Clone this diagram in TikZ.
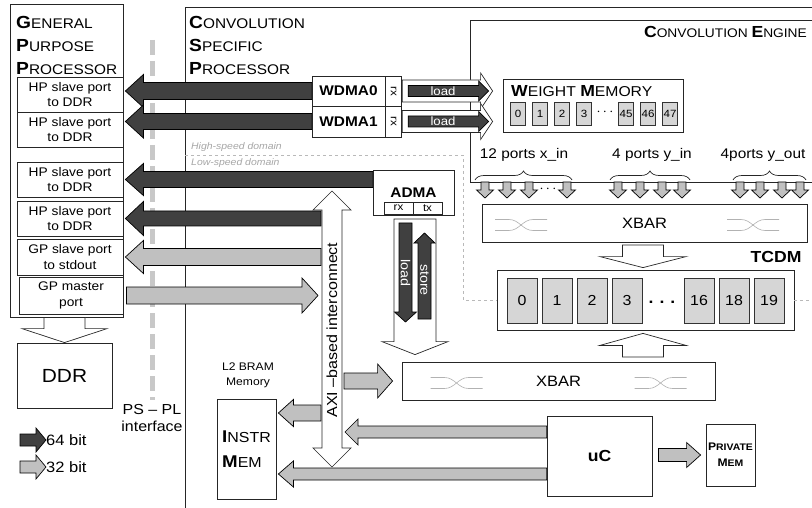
\documentclass[tikz,border=0pt]{standalone}
\usepackage{graphicx}
\usepackage{fontspec}
\setmainfont{Liberation Sans}[FakeStretch=1.1]
\usetikzlibrary{calc, decorations.pathreplacing}

\definecolor{arrowdark}{HTML}{404040}
\definecolor{arrowlight}{HTML}{C0C0C0}
\definecolor{cellgray}{HTML}{D6D6D6}
\definecolor{dashgray}{HTML}{C8C8C8}

% bold first letter of the small caps titles
\newcommand\capinit[2][17.5]{{\fontsize{#1}{#1}\selectfont\bfseries #2}}

% block arrow: [style]{tail}{tip}{half shaft}{half head}{head length}
\newcommand\blockarrow[6][]{%
  \coordinate (ba-h) at ($(#3)!#6!(#2)$);
  \draw[#1] ($(#2)!#4!90:(#3)$) -- ($(ba-h)!#4!-90:(#2)$) -- ($(ba-h)!#5!-90:(#2)$) -- (#3)
    -- ($(ba-h)!#5!90:(#2)$) -- ($(ba-h)!#4!90:(#2)$) -- ($(#2)!#4!-90:(#3)$) -- cycle;}

\tikzset{
  boxline/.style={draw=black!85, line width=0.8pt},
  blk/.style={boxline, fill=white, inner sep=0pt, align=center},
  port/.style={blk, minimum width=106pt, minimum height=35pt, font=\fontsize{12.5}{15.5}\selectfont},
  cell/.style={draw=black!80, fill=cellgray, line width=0.7pt, inner sep=0pt},
  wcell/.style={cell, minimum width=15pt, minimum height=23pt, font=\fontsize{10.5}{12}\selectfont},
  tcell/.style={cell, minimum width=30pt, minimum height=45pt, font=\fontsize{14.5}{16}\selectfont},
  bus64/.style={draw=black, fill=arrowdark, line width=0.7pt},
  bus32/.style={draw=black, fill=arrowlight, line width=0.7pt},
  hollow/.style={draw=black!85, fill=white, line width=0.7pt},
  crossline/.style={draw=gray!60, line width=0.6pt},
  xbarcross/.pic={
    \draw[crossline] (-26,-5.5) -- (-12,-5.5) to[out=0,in=180] (12,5.5) -- (26,5.5);
    \draw[crossline] (-26,5.5) -- (-12,5.5) to[out=0,in=180] (12,-5.5) -- (26,-5.5);},
  speedline/.style={draw=gray!55, dashed, line width=0.6pt},
  speedtext/.style={gray!70, font=\fontsize{9.5}{11}\selectfont\itshape, anchor=west, inner sep=0pt},
  ttl/.style={anchor=west, align=left, inner sep=0pt, font=\fontsize{14}{23}\selectfont},
  lbl/.style={inner sep=0pt, font=\fontsize{14}{16}\selectfont},
  brc/.style={decorate, decoration={brace, amplitude=9pt}, draw=black!85, line width=0.7pt},
}

\begin{document}
\begin{tikzpicture}[x=1pt, y=-1pt]
  \useasboundingbox (0,0) rectangle (812,508);

  % PS - PL boundary
  \draw[dashgray, line width=5pt, dash pattern=on 15pt off 6pt] (152,40) -- (152,400);
  \node[lbl, align=center, font=\fontsize{14.5}{17}\selectfont] (pspl) at (152,418) {PS \textendash{} PL\\interface};

  % frames of the CSP and of the convolution engine (run off the page)
  \draw[boxline] (185,508) |- (812,7);
  \draw[boxline] (812,20) -| (470,182) -- (812,182);
  \node[ttl] (csptitle) at (189,45) {\capinit{C}ONVOLUTION\\\capinit{S}PECIFIC\\\capinit{P}ROCESSOR};
  \node[ttl, anchor=east, font=\fontsize{12.5}{16}\selectfont] (cetitle) at (807,32) {\capinit[16]{C}ONVOLUTION \capinit[16]{E}NGINE};

  % high / low speed domains
  \node[blk, minimum width=297pt, minimum height=60pt] (tcdm) at (645.5,300) {};
  \draw[speedline] (185,155) -| (463,300) -- (tcdm.west);
  \draw[speedline] (tcdm.east) -- (812,300);
  \node[speedtext] (hsd) at (191,147) {High-speed domain};
  \node[speedtext] (lsd) at (191,163) {Low-speed domain};

  % general purpose processor
  \node[blk, minimum width=113pt, minimum height=313pt] (gpp) at (66.5,160.5) {};
  \node[ttl] (gpptitle) at (16,45) {\capinit{G}ENERAL\\\capinit{P}URPOSE\\\capinit{P}ROCESSOR};
  \node[port] (hp1) at (70,94.5) {HP slave port\\to DDR};
  \node[port] (hp2) at (70,129.5) {HP slave port\\to DDR};
  \node[port] (hp3) at (70,179.5) {HP slave port\\to DDR};
  \node[port] (hp4) at (70,218.5) {HP slave port\\to DDR};
  \node[port, minimum height=36pt] (gps) at (70,257) {GP slave port\\to stdout};
  \node[port, minimum width=104pt, minimum height=37pt] (gpm) at (71,295.5) {GP master\\port};
  \node[blk, minimum width=95pt, minimum height=65pt, font=\fontsize{19}{22}\selectfont] (ddr) at (64.5,375.5) {DDR};
  \coordinate (ddrin) at (ddr.north |- gpp.south);
  \blockarrow[hollow]{ddrin}{ddr.north}{20.5pt}{42.5pt}{14pt}

  % legend
  \node[lbl, anchor=west, font=\fontsize{15}{17}\selectfont] (t64) at (46,440) {64 bit};
  \node[lbl, anchor=west, font=\fontsize{15}{17}\selectfont] (t32) at (46,467) {32 bit};
  \coordinate (l64) at (20,440);
  \coordinate (l32) at (20,467);
  \blockarrow[bus64]{l64}{t64.west}{6pt}{12pt}{10pt}
  \blockarrow[bus32]{l32}{t32.west}{6pt}{12pt}{10pt}

  % weight DMAs
  \node[blk, minimum width=73pt, minimum height=30pt, font=\fontsize{14}{16}\selectfont\bfseries] (wdma0) at (348.5,91) {WDMA0};
  \node[blk, minimum width=73pt, minimum height=31pt, font=\fontsize{14}{16}\selectfont\bfseries] (wdma1) at (348.5,121.5) {WDMA1};
  \node[blk, minimum width=16pt, minimum height=30pt, anchor=west, font=\fontsize{10.5}{12}\selectfont] (rx0) at (wdma0.east) {\rotatebox{-90}{rx}};
  \node[blk, minimum width=16pt, minimum height=31pt, anchor=west, font=\fontsize{10.5}{12}\selectfont] (rx1) at (wdma1.east) {\rotatebox{-90}{rx}};

  % weight memory
  \node[blk, minimum width=180pt, minimum height=53pt] (wmem) at (593,105.5) {};
  \node[ttl, font=\fontsize{14.3}{16}\selectfont] (wmtitle) at (511,91) {\capinit[16]{W}EIGHT \capinit[16]{M}EMORY};
  \foreach \cx/\ci in {518/0,540/1,562/2,584/3,626/45,648/46,670/47}
    \node[wcell] (w\ci) at (\cx,113.5) {\ci};
  \node[lbl] (wdots) at (605,112) {$\cdots$};

  % load paths into the weight memory
  \coordinate (wl0) at ($(wmem.west |- rx0.east)+(-10,0)$);
  \coordinate (wl1) at ($(wmem.west |- rx1.east)+(-10,0)$);
  \blockarrow[hollow]{rx0.east}{wl0}{11pt}{18pt}{12pt}
  \blockarrow[hollow]{rx1.east}{wl1}{11pt}{18pt}{12pt}
  \coordinate (ld0a) at ($(rx0.east)+(6,0)$);
  \coordinate (ld0b) at ($(wl0)+(-4,0)$);
  \coordinate (ld1a) at ($(rx1.east)+(6,0)$);
  \coordinate (ld1b) at ($(wl1)+(-4,0)$);
  \blockarrow[bus64]{ld0a}{ld0b}{5.5pt}{10pt}{10pt}
  \blockarrow[bus64]{ld1a}{ld1b}{5.5pt}{10pt}{10pt}
  \node[lbl, white, font=\fontsize{12}{14}\selectfont] (ld0) at (443,91) {load};
  \node[lbl, white, font=\fontsize{12}{14}\selectfont] (ld1) at (443,121.5) {load};

  % 64 bit ports to the GPP
  \coordinate (a1) at ($(hp1.east |- wdma0.west)+(2,0)$);
  \coordinate (a2) at ($(hp2.east |- wdma1.west)+(2,0)$);
  \blockarrow[bus64]{wdma0.west}{a1}{8.5pt}{16.5pt}{18pt}
  \blockarrow[bus64]{wdma1.west}{a2}{8pt}{16.5pt}{18pt}

  % ADMA
  \node[blk, minimum width=81pt, minimum height=45pt] (adma) at (413.5,192.5) {};
  \node[inner sep=0pt, font=\fontsize{14}{16}\selectfont\bfseries] (admat) at (413.5,193) {ADMA};
  \node[blk, minimum width=29pt, minimum height=12pt, font=\fontsize{10.5}{12}\selectfont] (arx) at (398.5,208) {rx};
  \node[blk, minimum width=29pt, minimum height=12pt, font=\fontsize{10.5}{12}\selectfont] (atx) at (427.5,208) {tx};
  \coordinate (a3s) at (adma.west |- hp3.east);
  \coordinate (a3) at ($(hp3.east)+(2,0)$);
  \blockarrow[bus64]{a3s}{a3}{8pt}{16pt}{18pt}

  % AXI interconnect
  \coordinate (axitop) at (332,191);
  \coordinate (axibot) at (332,467);
  \coordinate (axiw) at (321,300);
  \coordinate (axie) at (344,300);
  \draw[hollow] (322,210) -- (313,210) -- (axitop) -- (351,210) -- (342,210) -- (342,448)
    -- (351,448) -- (axibot) -- (313,448) -- (322,448) -- cycle;
  \node[rotate=90, inner sep=0pt, font=\fontsize{14.6}{16}\selectfont] (axit) at (332,330) {AXI \textendash based interconnect};

  \coordinate (a4s) at (hp4.east -| axiw);
  \coordinate (a4) at ($(hp4.east)+(2,0)$);
  \blockarrow[bus64]{a4s}{a4}{7.5pt}{17pt}{18pt}
  \coordinate (a5s) at (gps.east -| axiw);
  \coordinate (a5) at ($(gps.east)+(2,0)$);
  \blockarrow[bus32]{a5s}{a5}{8.5pt}{16.5pt}{18pt}
  \coordinate (a6s) at ($(gpm.east)+(3,0)$);
  \coordinate (a6) at ($(gpm.east -| axiw)+(-3,0)$);
  \blockarrow[bus32]{a6s}{a6}{8.5pt}{17.5pt}{16pt}

  % crossbars and TCDM
  \node[blk, minimum width=325pt, minimum height=38pt, font=\fontsize{15}{17}\selectfont] (xbar1) at (644.5,223) {XBAR};
  \pic at (521,225) {xbarcross};
  \pic at (753,225) {xbarcross};
  \node[blk, minimum width=313pt, minimum height=38pt, font=\fontsize{15}{17}\selectfont] (xbar2) at (558.5,381) {XBAR};
  \pic at (456.5,383) {xbarcross};
  \pic at (660.5,383) {xbarcross};
  \foreach \cx/\ci in {522/0,557/1,592/2,627/3,699/16,734/18,769/19}
    \node[tcell] (t\ci) at (\cx,300.5) {\ci};
  \node[inner sep=0pt, font=\fontsize{16}{16}\selectfont\bfseries] (tdots) at (662,302) {.\hspace{6pt}.\hspace{6pt}.};
  \node[inner sep=0pt, font=\fontsize{16}{18}\selectfont\bfseries] (tcdmt) at (776,257) {TCDM};
  \coordinate (x1out) at (643,245);
  \coordinate (x1in) at ($(tcdm.north -| x1out)+(0,-2)$);
  \blockarrow[hollow]{x1out}{x1in}{20.5pt}{43pt}{11pt}
  \coordinate (x2out) at (643,357);
  \coordinate (x2in) at ($(tcdm.south -| x2out)+(0,3)$);
  \blockarrow[hollow]{x2out}{x2in}{20.5pt}{43pt}{12pt}

  % ports of the engine
  \node[lbl, font=\fontsize{14}{16}\selectfont] (xin) at (524,155) {12 ports x\_in};
  \node[lbl, font=\fontsize{14}{16}\selectfont] (yin) at (652,155) {4 ports y\_in};
  \node[lbl, font=\fontsize{14}{16}\selectfont] (yout) at (763,155) {4ports y\_out};
  \draw[brc] (475,180) -- (572,180);
  \draw[brc] (610,180) -- (690,180);
  \draw[brc] (733,180) -- (806,180);
  \foreach \px in {485,507,529,567,618,640,662,682,740,760,782,800}
    {\blockarrow[bus32]{\px,182}{\px,198}{4pt}{8.5pt}{8pt}}
  \node[lbl] (xdots) at (548,189) {$\cdots$};

  % ADMA to the lower crossbar
  \coordinate (admaout) at (415,219);
  \coordinate (admain) at ($(xbar2.north -| admaout)+(0,-7)$);
  \blockarrow[hollow]{admaout}{admain}{21pt}{33pt}{13pt}
  \coordinate (lda) at (405.5,223);
  \coordinate (ldb) at (405.5,322);
  \coordinate (sta) at (424.5,319);
  \coordinate (stb) at (424.5,233);
  \blockarrow[bus64]{lda}{ldb}{6.5pt}{11pt}{10pt}
  \blockarrow[bus64]{sta}{stb}{6.5pt}{10.5pt}{10pt}
  \node[rotate=-90, inner sep=0pt, white, font=\fontsize{13}{14}\selectfont] (ldt) at (405.5,273) {load};
  \node[rotate=-90, inner sep=0pt, white, font=\fontsize{13}{14}\selectfont] (stt) at (424.5,280) {store};

  % AXI to the lower crossbar
  \coordinate (a7s) at (xbar2.west -| axie);
  \coordinate (a7) at ($(xbar2.west)+(-9,0)$);
  \blockarrow[bus32]{a7s}{a7}{8pt}{17pt}{15pt}

  % L2 memory, uC, private memory
  \node[lbl, align=center, font=\fontsize{11}{15}\selectfont] (l2) at (248,375) {L2 BRAM\\Memory};
  \node[blk, align=left, minimum width=59pt, minimum height=100pt, font=\fontsize{14.5}{25}\selectfont] (instr) at (246.5,449) {\capinit[17]{I}NSTR\\\capinit[17]{M}EM};
  \node[blk, minimum width=105pt, minimum height=80pt, font=\fontsize{16}{18}\selectfont\bfseries] (uc) at (599.5,456) {uC};
  \node[blk, minimum width=49pt, minimum height=62pt, font=\fontsize{9.5}{16}\selectfont\bfseries] (pmem) at (730.5,455) {\capinit[11]{P}RIVATE\\\capinit[11]{M}EM};

  \coordinate (i1) at ($(instr.east)+(2,-36)$);
  \coordinate (i1s) at (i1 -| axiw);
  \blockarrow[bus32]{i1s}{i1}{8pt}{13.5pt}{15pt}
  \coordinate (u1s) at ($(uc.west)+(0,-24)$);
  \coordinate (u1) at ($(u1s -| axie)+(1,0)$);
  \blockarrow[bus32]{u1s}{u1}{6pt}{13pt}{13pt}
  \coordinate (u2s) at ($(uc.west)+(0,18)$);
  \coordinate (u2) at ($(instr.east |- u2s)+(2,0)$);
  \blockarrow[bus32]{u2s}{u2}{6pt}{13pt}{15pt}
  \coordinate (u3s) at ($(uc.east)+(6,-1)$);
  \coordinate (u3) at ($(pmem.west)+(-5,0)$);
  \blockarrow[bus32]{u3s}{u3}{6.5pt}{12.5pt}{14pt}
\end{tikzpicture}
\end{document}
